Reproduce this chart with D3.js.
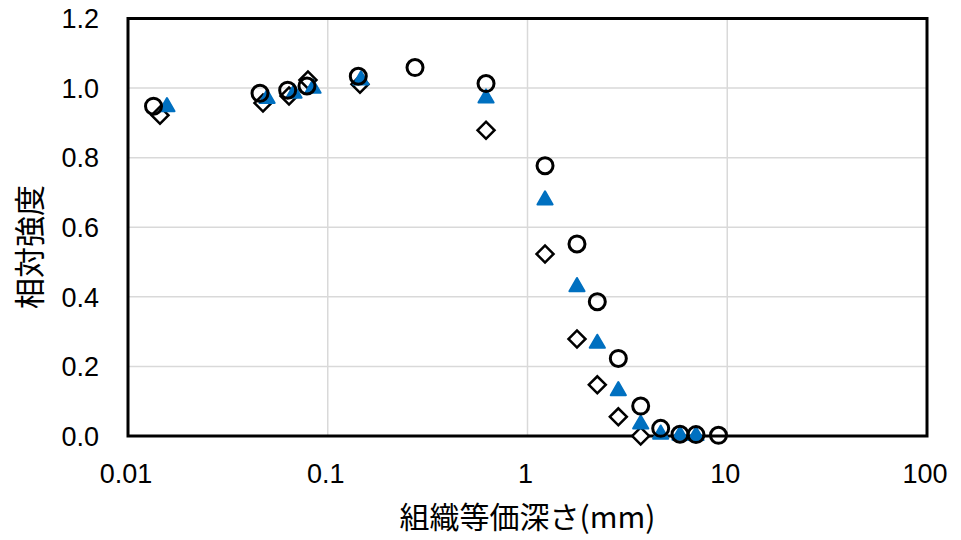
<!DOCTYPE html>
<html>
<head>
<meta charset="utf-8">
<script src="https://cdn.jsdelivr.net/npm/d3@7/dist/d3.min.js"></script>
<style>
	body { margin: 0; background: #fff; }
	.tick-label { font-family: "Liberation Sans", Arial, sans-serif; font-size: 27px; fill: #000; }
	.axis-title { font-family: "Noto Sans CJK JP", sans-serif; font-size: 29px; fill: #000; }
</style>
</head>
<body>
<div class="chart"></div>
<script>
// 組織等価深さ(mm) vs 相対強度
var diamondX = [0.01446, 0.0474, 0.0640, 0.0796, 0.1450, 0.620, 1.224, 1.769, 2.236, 2.849, 3.687];
var diamondY = [0.922, 0.957, 0.977, 1.023, 1.011, 0.879, 0.523, 0.279, 0.147, 0.055, 0.0];

var triangleX = [0.01567, 0.0497, 0.0678, 0.0844, 0.1467, 0.620, 1.224, 1.769, 2.236, 2.849, 3.687, 4.643, 5.80, 6.975];
var triangleY = [0.946, 0.970, 0.985, 0.999, 1.023, 0.971, 0.678, 0.429, 0.266, 0.130, 0.034, 0.005, 0.002, 0.001];

var circleX = [0.01342, 0.0458, 0.0630, 0.0787, 0.1422, 0.2734, 0.620, 1.224, 1.769, 2.236, 2.849, 3.687, 4.643, 5.80, 6.975, 9.04];
var circleY = [0.948, 0.985, 0.994, 1.006, 1.034, 1.059, 1.013, 0.777, 0.552, 0.386, 0.223, 0.086, 0.022, 0.005, 0.004, 0.002];

var xTicks = [0.01, 0.1, 1, 10, 100];
var xTickLabels = ["0.01", "0.1", "1", "10", "100"];
var yTicks = [0, 0.2, 0.4, 0.6, 0.8, 1.0, 1.2];

var xTitle = "組織等価深さ(mm)";
var yTitle = "相対強度";

function makeChart(){
	var width = 961,
			height = 540;
	var left = 128, right = 927, top = 18.5, bottom = 436;

	var svg = d3.select(".chart").append("svg")
			.attr("width", width)
			.attr("height", height);

	var x = d3.scaleLog().domain([0.01, 100]).range([left, right]);
	var y = d3.scaleLinear().domain([0, 1.2]).range([bottom, top]);

	// gridlines
	svg.append("g").selectAll("line")
			.data(yTicks.slice(1, -1))
		.enter().append("line")
			.attr("x1", left).attr("x2", right)
			.attr("y1", function(d){ return y(d) })
			.attr("y2", function(d){ return y(d) })
			.style("stroke", "#d9d9d9")
			.style("stroke-width", 1.5);

	svg.append("g").selectAll("line")
			.data(xTicks.slice(1, -1))
		.enter().append("line")
			.attr("y1", top).attr("y2", bottom)
			.attr("x1", function(d){ return x(d) })
			.attr("x2", function(d){ return x(d) })
			.style("stroke", "#d9d9d9")
			.style("stroke-width", 1.5);

	// tick labels
	svg.append("g").selectAll("text")
			.data(yTicks)
		.enter().append("text")
			.attr("class", "tick-label")
			.attr("x", 99)
			.attr("y", function(d){ return y(d) })
			.attr("dy", "0.36em")
			.attr("text-anchor", "end")
			.text(function(d){ return d3.format(".1f")(d) });

	svg.append("g").selectAll("text")
			.data(xTicks)
		.enter().append("text")
			.attr("class", "tick-label")
			.attr("x", function(d){ return x(d) - 2 })
			.attr("y", 483)
			.attr("text-anchor", "middle")
			.text(function(d, i){ return xTickLabels[i] });

	// axis titles
	svg.append("text")
			.attr("class", "axis-title")
			.attr("x", (left + right) / 2)
			.attr("y", 528)
			.attr("text-anchor", "middle")
			.style("font-size", "30px")
			.text(xTitle);

	svg.append("text")
			.attr("class", "axis-title")
			.attr("transform", "translate(41," + 247 + ") rotate(-90)")
			.attr("text-anchor", "middle")
			.style("font-size", "31px")
			.text(yTitle);

	// plot border
	svg.append("rect")
			.attr("x", left).attr("y", top)
			.attr("width", right - left)
			.attr("height", bottom - top)
			.style("fill", "none")
			.style("stroke", "#000")
			.style("stroke-width", 3);

	// series: diamonds, triangles, circles
	var diamond = d3.symbol().type(d3.symbolSquare).size(144);
	svg.append("g").selectAll("path")
			.data(diamondX)
		.enter().append("path")
			.attr("d", diamond)
			.attr("transform", function(d, i){ return "translate(" + x(d) + "," + y(diamondY[i]) + ") rotate(45)" })
			.style("fill", "#fff")
			.style("stroke", "#000")
			.style("stroke-width", 2.5);

	var triangle = d3.symbol().type(d3.symbolTriangle).size(100);
	svg.append("g").selectAll("path")
			.data(triangleX)
		.enter().append("path")
			.attr("d", triangle)
			.attr("transform", function(d, i){ return "translate(" + x(d) + "," + y(triangleY[i]) + ")" })
			.style("fill", "#0070c0")
			.style("stroke", "#0070c0")
			.style("stroke-width", 2)
			.style("stroke-linejoin", "round");

	svg.append("g").selectAll("circle")
			.data(circleX)
		.enter().append("circle")
			.attr("cx", function(d){ return x(d) })
			.attr("cy", function(d, i){ return y(circleY[i]) })
			.attr("r", 8)
			.style("fill", "none")
			.style("stroke", "#000")
			.style("stroke-width", 3);
}

makeChart();
</script>
</body>
</html>
